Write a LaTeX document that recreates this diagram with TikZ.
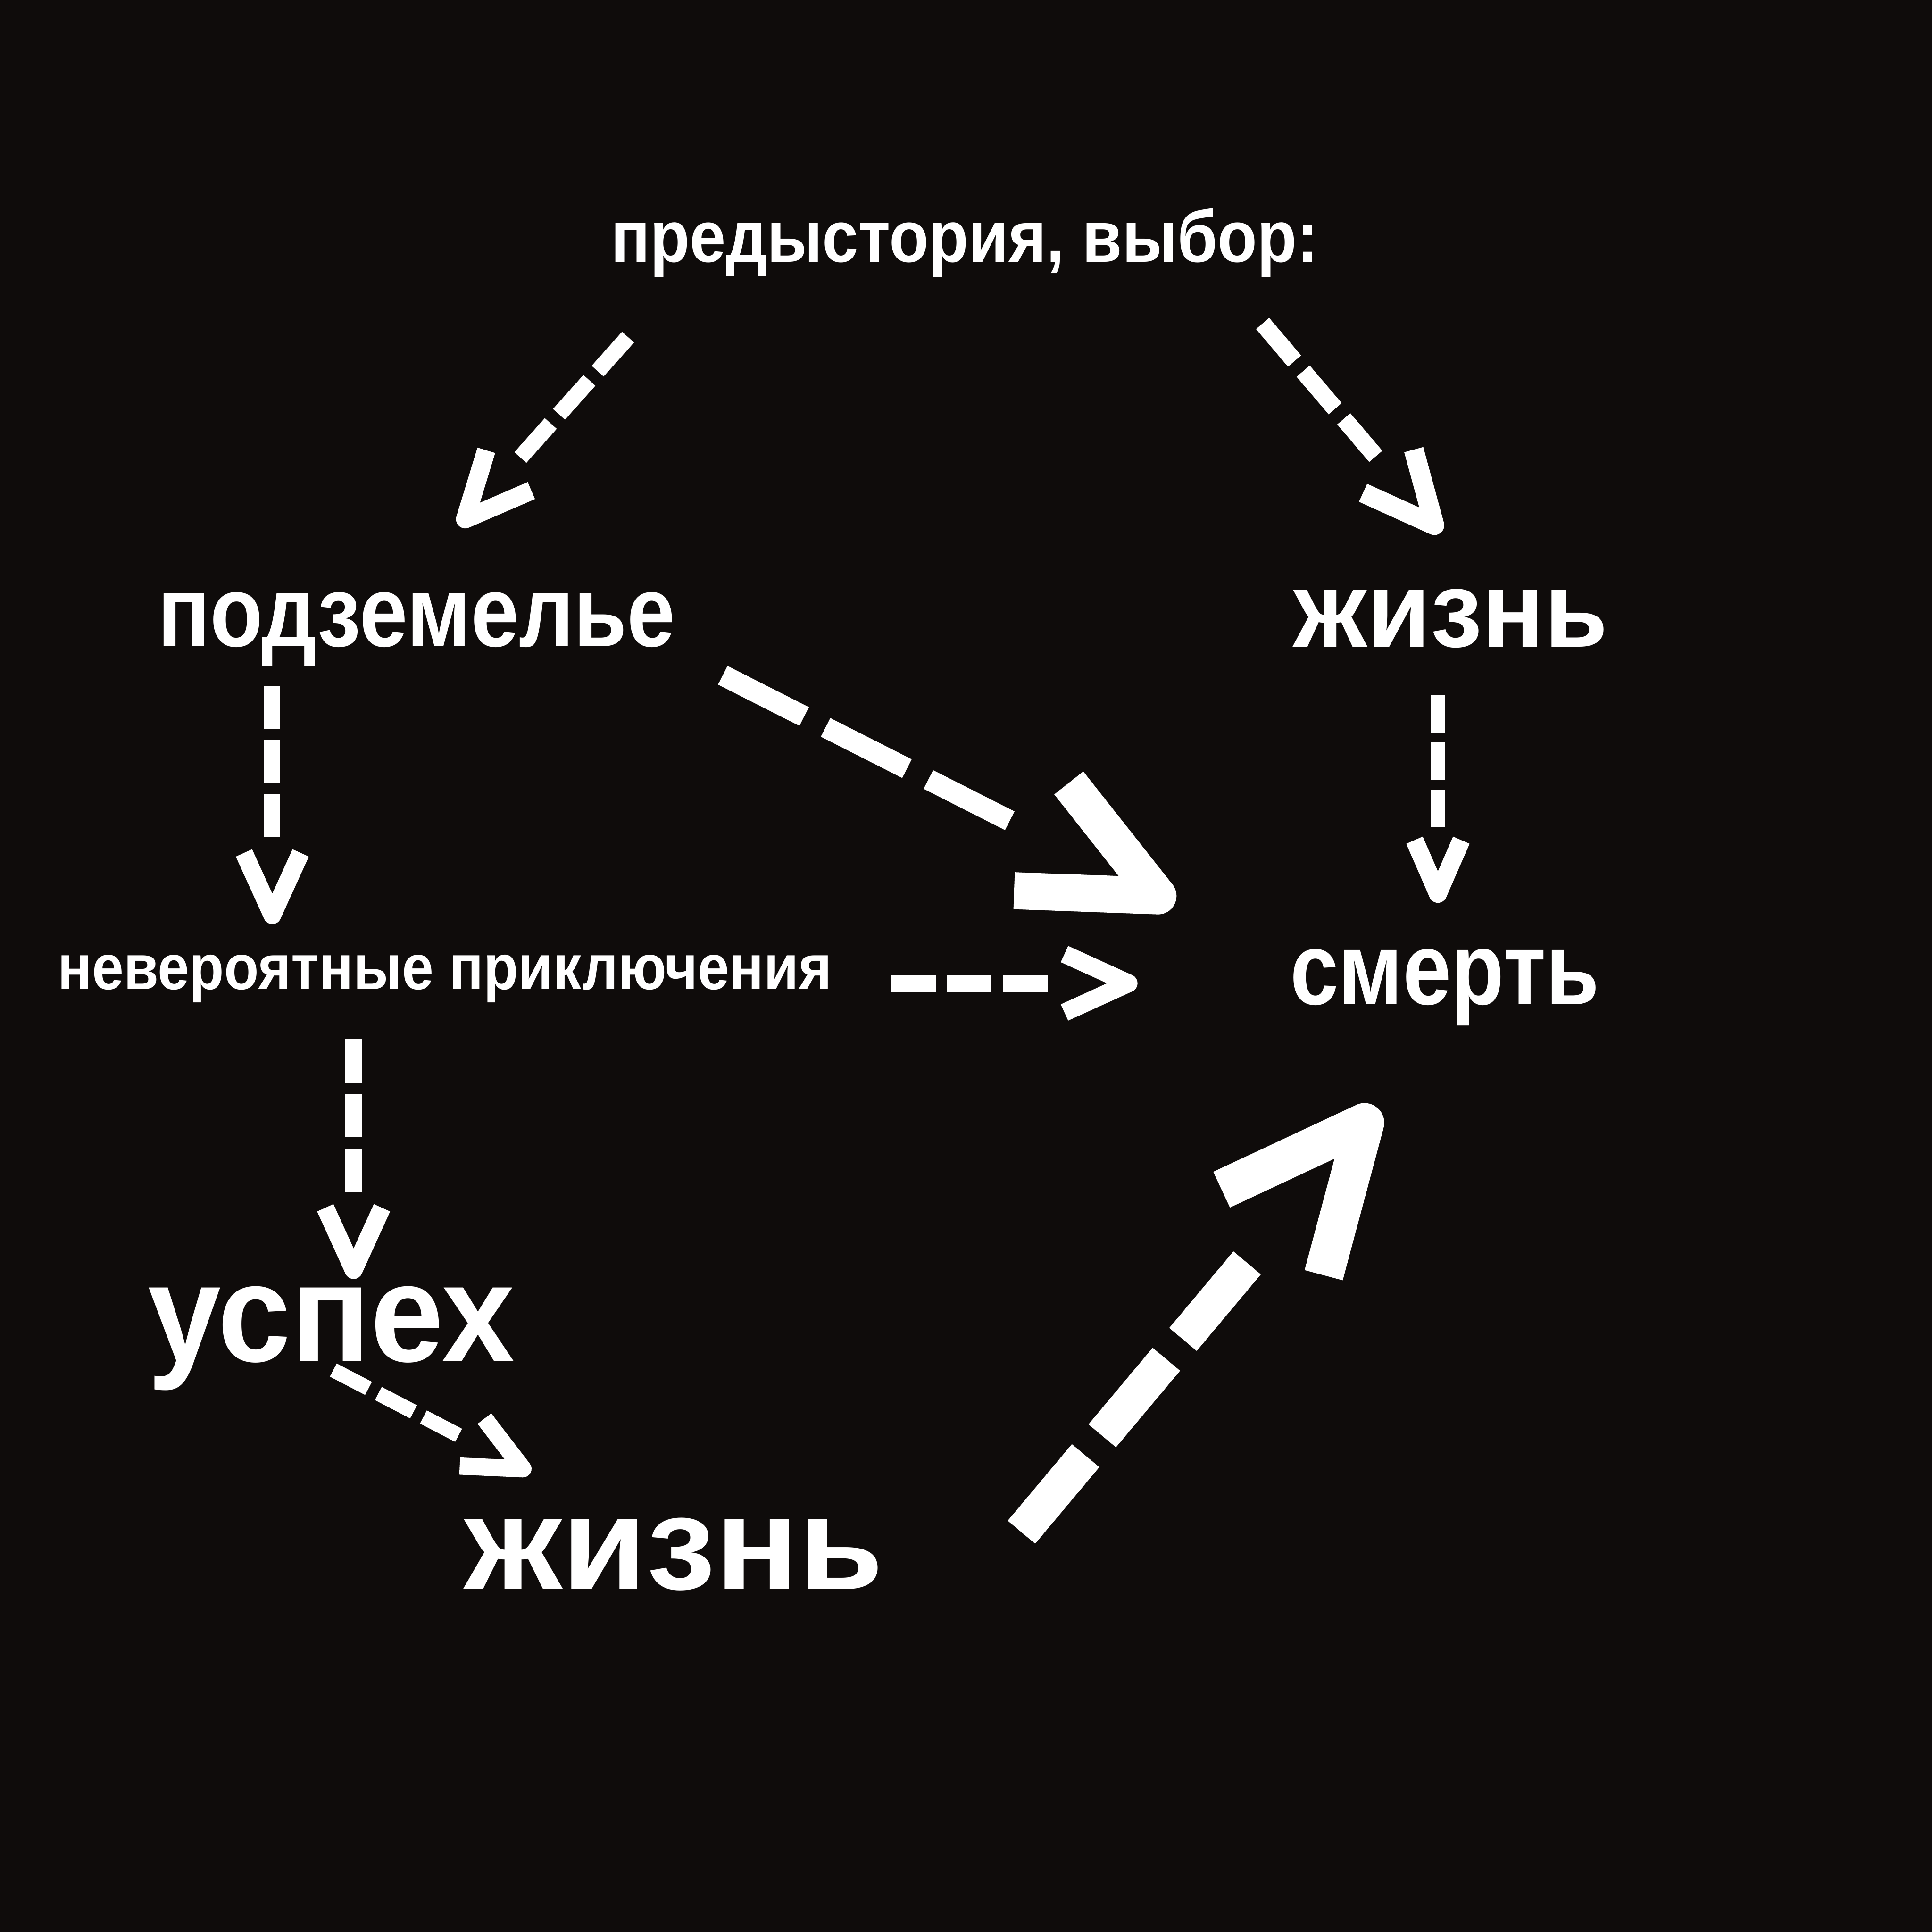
\documentclass[tikz,border=0pt]{standalone}
\usepackage{fontspec}
\usepackage{graphicx}
\setmainfont{Liberation Sans}
\usepackage{tikz}
\usetikzlibrary{arrows.meta,calc}

\definecolor{bg}{HTML}{0F0C0B}
\newlength\pxu
\setlength\pxu{0.01cm}

\begin{document}
\begin{tikzpicture}[
        x=0.01cm, y=-0.01cm,
        word/.style={text=white, inner sep=0pt, anchor=base, font=\bfseries},
        % widths and lengths in mm (1 mm = 10 units of the picture)
        link/.style n args={6}{white, line width=#1mm,
            dash pattern=on #2mm off #3mm on #2mm off #3mm on #2mm off 500mm,
            -{Straight Barb[length=#4mm, width=#5mm, line width=#6mm, line join=round]}}
    ]

    % ---------- фон ----------
    \fill[bg] (0,0) rectangle (1568,1568);

    % ---------- слова ----------
    \node[word] (pre)  at (783,212.7)  {\resizebox{574\pxu}{43.6\pxu}{предыстория, выбор:}};
    \node[word] (podz) at (338,524.5)  {\resizebox{420\pxu}{44\pxu}{подземелье}};
    \node[word] (zh1)  at (1177.5,525) {\resizebox{255\pxu}{47\pxu}{жизнь}};
    \node[word] (nev)  at (361,803)    {\resizebox{628\pxu}{28\pxu}{невероятные приключения}};
    \node[word] (smert) at (1172.5,815) {\resizebox{251\pxu}{45\pxu}{смерть}};
    \node[word] (usp)  at (269,1105)   {\resizebox{298\pxu}{61\pxu}{успех}};
    \node[word] (zh2)  at (547,1290)   {\resizebox{340\pxu}{58\pxu}{жизнь}};

    % ---------- стрелки ----------
    \draw[link={1.3}{3.7}{1.0}{5.3}{4.9}{1.5}]
        ($(pre.base)+(-273.3,60.9)$) -- ($(podz.base)+(34.6,-97.6)$);
    \draw[link={1.4}{4.0}{1.08}{5.75}{5.4}{1.6}]
        ($(pre.base)+(241.7,49.8)$) -- ($(zh1.base)+(-8.2,-92.7)$);
    \draw[link={1.3}{3.5}{0.9}{5.05}{4.6}{1.45}]
        ($(podz.base)+(-117,32)$) -- ($(nev.base)+(-140,-53)$);
    \draw[link={1.7}{7.4}{1.95}{10.6}{9.8}{3.0}]
        ($(podz.base)+(248.6,23.5)$) -- ($(smert.base)+(-219.3,-81.1)$);
    \draw[link={1.37}{3.6}{0.94}{5.2}{4.74}{1.45}]
        ($(nev.base)+(362.4,-5)$) -- ($(smert.base)+(-249.3,-17)$);
    \draw[link={1.15}{3.04}{0.78}{4.35}{3.8}{1.46}]
        ($(zh1.base)+(-10.5,39.2)$) -- ($(smert.base)+(-5.5,-82.3)$);
    \draw[link={1.33}{3.5}{0.94}{5.05}{4.6}{1.45}]
        ($(nev.base)+(-74,40.5)$) -- ($(usp.base)+(18,-67)$);
    \draw[link={1.2}{3.22}{0.9}{4.65}{4.34}{1.4}]
        ($(usp.base)+(1.5,6.9)$) -- ($(zh2.base)+(-116.4,-94.7)$);
    \draw[link={2.9}{8.1}{2.1}{11.6}{10.8}{3.2}]
        ($(zh2.base)+(282,-46.5)$) -- ($(smert.base)+(-54.8,84)$);

\end{tikzpicture}
\end{document}
